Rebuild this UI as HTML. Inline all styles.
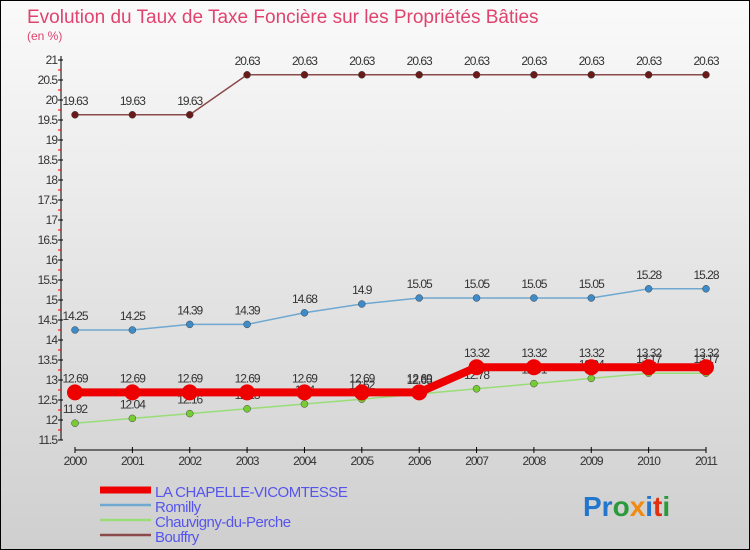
<!DOCTYPE html>
<html><head><meta charset="utf-8"><style>
body{margin:0;width:750px;height:550px;overflow:hidden}
#c{position:absolute;left:0;top:0;width:748px;height:548px;border:1px solid #000;background:linear-gradient(#fafafa,#cfcfcf)}
svg{position:absolute;left:0;top:0}
text{font-family:"Liberation Sans",sans-serif}
</style></head><body>
<div id="c"></div>
<svg id="s" width="750" height="550">
<text x="27" y="23" font-size="19" fill="#e0436e">Evolution du Taux de Taxe Foncière sur les Propriétés Bâties</text>
<text x="27" y="40" font-size="12" fill="#e0436e">(en %)</text>
<g font-size="28" font-weight="bold">
<text x="583" y="516"><tspan fill="#2277cc">Pr</tspan><tspan fill="#2a9a3a">o</tspan><tspan fill="#f08a10">x</tspan><tspan fill="#2277cc">i</tspan><tspan fill="#e03010">t</tspan><tspan fill="#2a9a3a">i</tspan></text></g>
</svg>
<script>
const years=["2000","2001","2002","2003","2004","2005","2006","2007","2008","2009","2010","2011"];
const yTicks=[11.5,12,12.5,13,13.5,14,14.5,15,15.5,16,16.5,17,17.5,18,18.5,19,19.5,20,20.5,21];
const chapelle=[12.69,12.69,12.69,12.69,12.69,12.69,12.69,13.32,13.32,13.32,13.32,13.32];
const romilly=[14.25,14.25,14.39,14.39,14.68,14.9,15.05,15.05,15.05,15.05,15.28,15.28];
const chauvigny=[11.92,12.04,12.16,12.28,12.4,12.52,12.65,12.78,12.91,13.04,13.17,13.17];
const bouffry=[19.63,19.63,19.63,20.63,20.63,20.63,20.63,20.63,20.63,20.63,20.63,20.63];
const series=[
 {name:"LA CHAPELLE-VICOMTESSE",v:chapelle,c:"#ee0000",w:8,r:8,dot:"#ee0000"},
 {name:"Romilly",v:romilly,c:"#6fa8d0",w:1.5,r:3.5,dot:"#3d8bc8"},
 {name:"Chauvigny-du-Perche",v:chauvigny,c:"#99dd77",w:1.5,r:3.5,dot:"#77cc33"},
 {name:"Bouffry",v:bouffry,c:"#8b4a4a",w:1.5,r:3.5,dot:"#6b1a1a"}];
const s=document.getElementById('s'),NS="http://www.w3.org/2000/svg";
const X=i=>75+i*(706-75)/11, Y=v=>440-(v-11.5)*40;
function el(t,a,txt){const e=document.createElementNS(NS,t);for(const k in a)e.setAttribute(k,a[k]);if(txt!=null)e.textContent=txt;s.appendChild(e);return e;}
let e=el('line',{x1:61,y1:56,x2:61,y2:440,stroke:"#000"});

yTicks.forEach(v=>{el('line',{x1:58,x2:63,y1:Y(v),y2:Y(v),stroke:"#000"});
 if(v<21)el('line',{x1:58,x2:61,y1:Y(v+0.25),y2:Y(v+0.25),stroke:"#e00"});
 e=el('text',{x:57,y:Y(v)+4,"font-size":12,"text-anchor":"end",fill:"#333","letter-spacing":"-1"},String(v));
 });
e=el('line',{x1:75,y1:450,x2:706,y2:450,stroke:"#000"});

years.forEach((y,i)=>{el('line',{x1:X(i),x2:X(i),y1:447,y2:453,stroke:"#000"});
 e=el('text',{x:X(i),y:465,"font-size":12,"text-anchor":"middle",fill:"#333","letter-spacing":"-1"},y);
 });
[...series].reverse().forEach(sr=>{
 e=el('polyline',{points:sr.v.map((v,i)=>X(i)+","+Y(v)).join(" "),fill:"none",stroke:sr.c,"stroke-width":sr.w});
 
 sr.v.forEach((v,i)=>{e=el('circle',{cx:X(i),cy:Y(v),r:sr.r,fill:sr.dot,stroke:sr.r>5?"none":"#444","stroke-width":0.5});
  
  e=el('text',{x:X(i),y:Y(v)-10,"font-size":12,"text-anchor":"middle",fill:"#333","letter-spacing":"-1"},String(v));
  });
});
series.forEach((sr,k)=>{const y=493+k*15;
 el('line',{x1:100,x2:151,y1:y-3,y2:y-3,stroke:sr.c,"stroke-width":k==0?7:2.5});
 e=el('text',{x:155,y:y+4,"font-size":15,fill:"#5555ee","letter-spacing":"-0.5"},sr.name);
 });
</script>
</body></html>
